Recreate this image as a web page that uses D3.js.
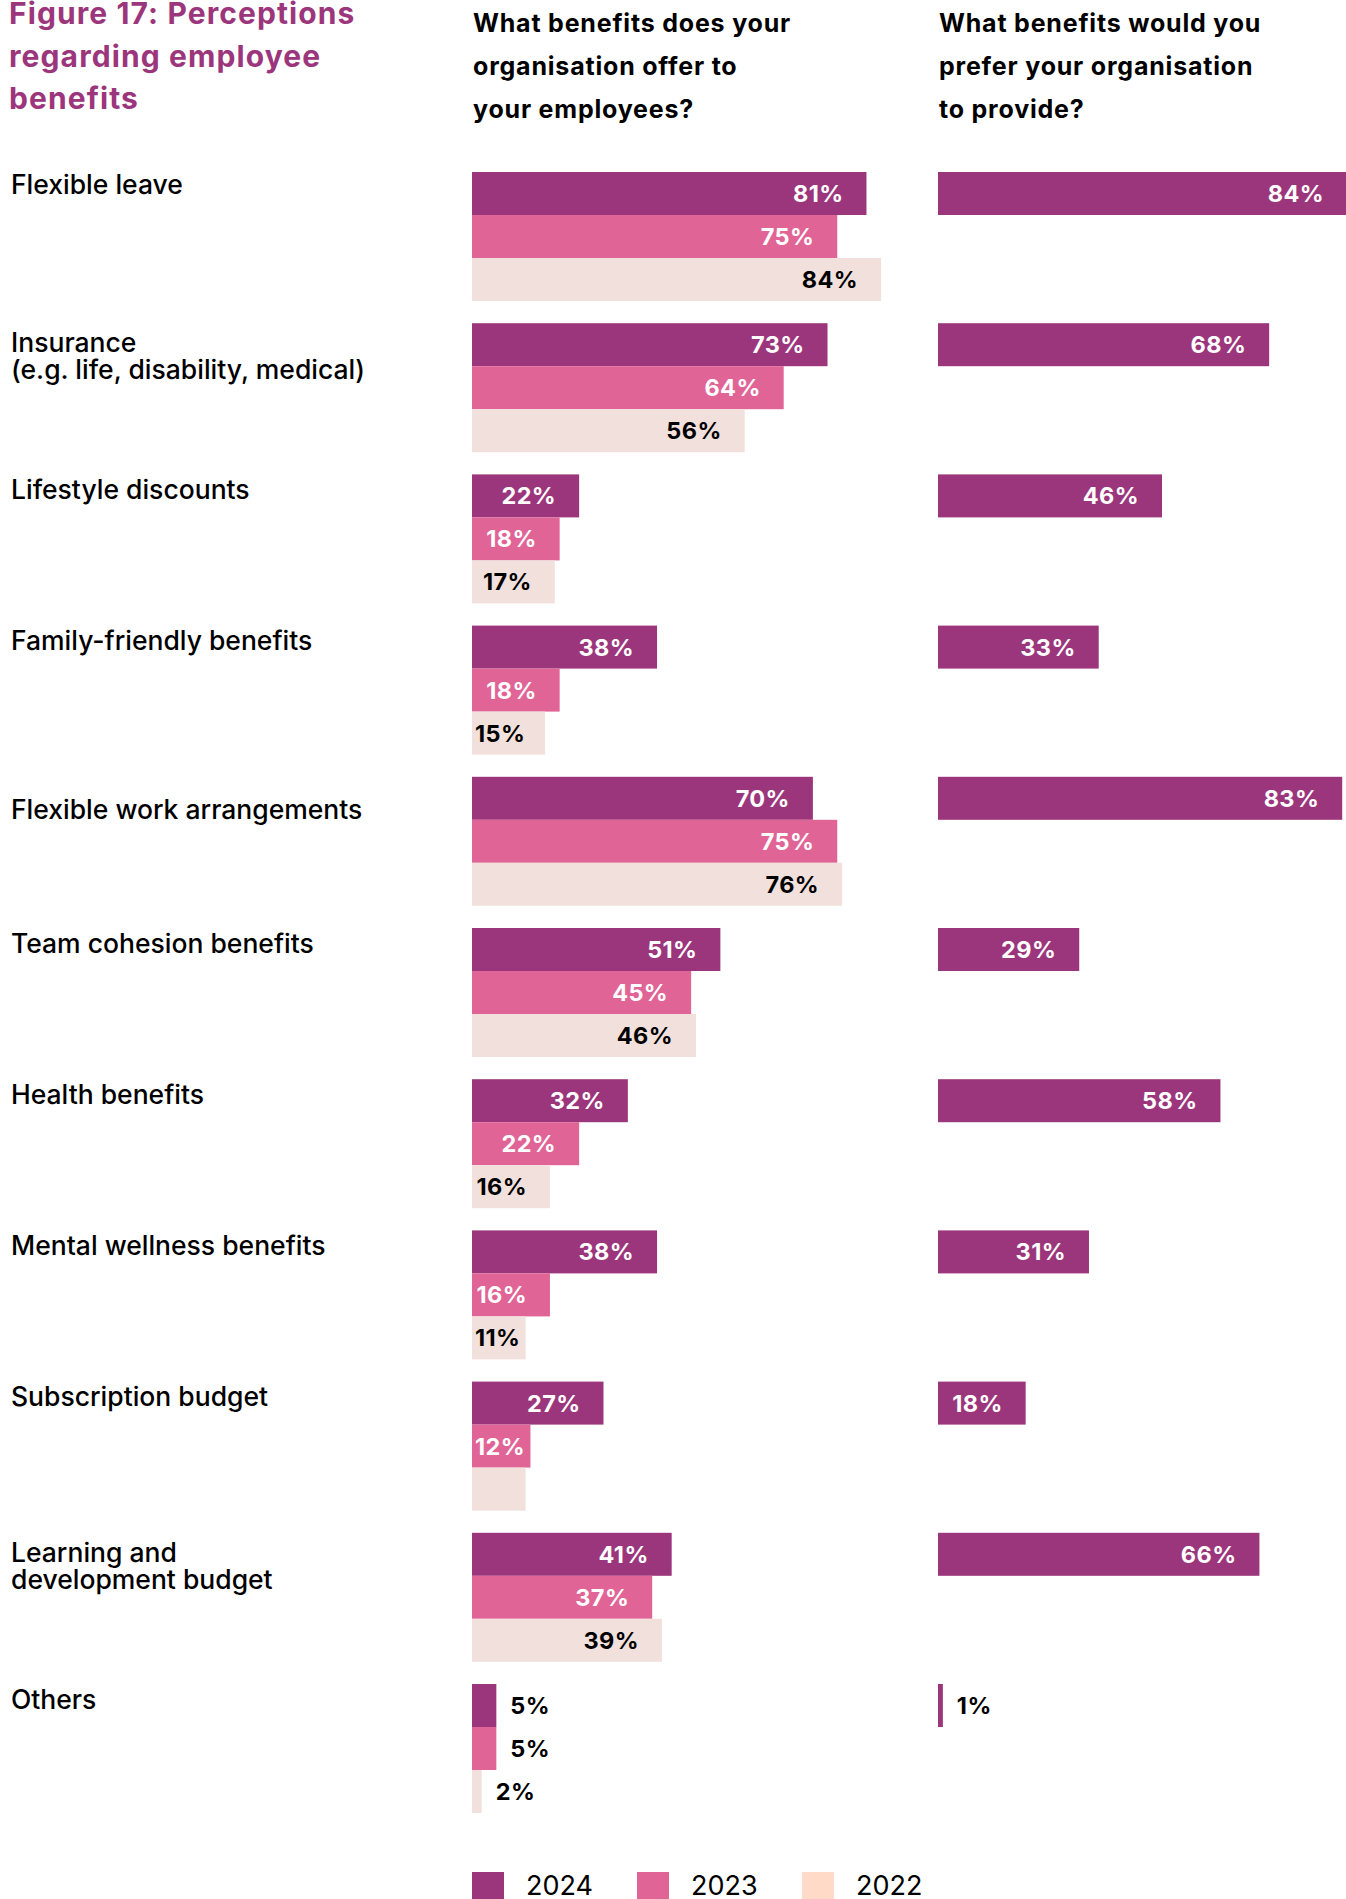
<!DOCTYPE html>
<html>
<head>
<meta charset="utf-8">
<script src="https://cdn.jsdelivr.net/npm/d3@7"></script>
<style>
  html, body { margin: 0; padding: 0; background: #ffffff; }
  svg { display: block; }
  text { font-family: Inter, "Noto Sans", sans-serif; }
</style>
</head>
<body>
<svg id="chart" width="1346" height="1899"></svg>
<script>
// Benefit categories (each entry is the list of lines drawn for the label)
const categories = [
  ["Flexible leave"],
  ["Insurance", "(e.g. life, disability, medical)"],
  ["Lifestyle discounts"],
  ["Family-friendly benefits"],
  ["Flexible work arrangements"],
  ["Team cohesion benefits"],
  ["Health benefits"],
  ["Mental wellness benefits"],
  ["Subscription budget"],
  ["Learning and", "development budget"],
  ["Others"]
];

const years = ["2024", "2023", "2022"];

// "What benefits does your organisation offer to your employees?" (%)
const offered2024 = [81, 73, 22, 38, 70, 51, 32, 38, 27, 41, 5];
const offered2023 = [75, 64, 18, 18, 75, 45, 22, 16, 12, 37, 5];
const offered2022 = [84, 56, 17, 15, 76, 46, 16, 11, 11, 39, 2];
// the 2022 subscription budget bar carries no printed value
const offered2022Labelled = [true, true, true, true, true, true, true, true, false, true, true];

// "What benefits would you prefer your organisation to provide?" (%)
const preferred2024 = [84, 68, 46, 33, 83, 29, 58, 31, 18, 66, 1];

const titleLines = ["Figure 17: Perceptions", "regarding employee", "benefits"];
const headerLeft = ["What benefits does your", "organisation offer to", "your employees?"];
const headerRight = ["What benefits would you", "prefer your organisation", "to provide?"];

// ---- styling ----
const colors = { "2024": "#9c367c", "2023": "#e16496", "2022": "#f2e0dd" };
const legendColors = { "2024": "#9c367c", "2023": "#e16496", "2022": "#ffdac6" };
const labelInk = { "2024": "#ffffff", "2023": "#ffffff", "2022": "#000000" };
const purple = "#9c367c";

const svg = d3.select("#chart");

const catKeys = categories.map(c => c.join(" "));

// rows: 11 groups of three stacked bars
const y = d3.scaleBand()
  .domain(catKeys)
  .range([172, 1813])
  .paddingInner(22.2 / 151.2)
  .paddingOuter(0);

const yInner = d3.scaleBand()
  .domain(years)
  .range([0, y.bandwidth()]);

const x = d3.scaleLinear().domain([0, 100]).range([0, 487]);

const leftX0 = 472;
const rightX0 = 938;

// title
svg.append("g").selectAll("text")
  .data(titleLines)
  .join("text")
  .attr("x", 9)
  .attr("y", (d, i) => 24 + i * 42.5)
  .attr("fill", purple)
  .attr("font-size", 30)
  .attr("font-weight", 700)
  .attr("letter-spacing", 1.1)
  .text(d => d);

// column headers
function header(lines, x0) {
  svg.append("g").selectAll("text")
    .data(lines)
    .join("text")
    .attr("x", x0)
    .attr("y", (d, i) => 32 + i * 43)
    .attr("fill", "#000")
    .attr("font-size", 25)
    .attr("font-weight", 700)
    .attr("letter-spacing", 0.8)
    .text(d => d);
}
header(headerLeft, leftX0 + 1);
header(headerRight, rightX0 + 1);

// category labels, with small vertical nudges per row
const labelBaseline = {
  "Flexible leave": 22,
  "Insurance (e.g. life, disability, medical)": 29,
  "Flexible work arrangements": 42.5,
  "Learning and development budget": 29
};
const catG = svg.append("g");
categories.forEach((lines, i) => {
  const key = catKeys[i];
  const base = y(key) + (labelBaseline[key] ?? 24.5);
  catG.append("text")
    .attr("x", 11)
    .attr("y", base)
    .attr("font-size", 26.5)
    .attr("font-weight", 500)
    .attr("fill", "#000")
    .selectAll("tspan")
    .data(lines)
    .join("tspan")
    .attr("x", 11)
    .attr("dy", (d, j) => j === 0 ? 0 : 26.7)
    .text(d => d);
});

// bar + value label drawing
function drawBars(g, rows, x0) {
  g.selectAll("rect")
    .data(rows)
    .join("rect")
    .attr("x", x0)
    .attr("y", d => y(d.cat) + yInner(d.year))
    .attr("width", d => x(d.value))
    .attr("height", yInner.bandwidth())
    .attr("fill", d => colors[d.year]);

  g.selectAll("text")
    .data(rows.filter(d => d.labelled))
    .join("text")
    .attr("font-size", 23.5)
    .attr("font-weight", 700)
    .attr("letter-spacing", 0.4)
    .attr("y", d => y(d.cat) + yInner(d.year) + yInner.bandwidth() / 2 + 8.5)
    .each(function (d) {
      const w = x(d.value);
      const t = d3.select(this).text(d.value + "%");
      if (w > 45) {
        const tw = this.getComputedTextLength();
        let right = x0 + w - 23;
        if (right - tw < x0 + 3) right = x0 + 3 + tw;
        t.attr("x", right).attr("text-anchor", "end").attr("fill", labelInk[d.year]);
      } else {
        t.attr("x", x0 + w + 14)
          .attr("text-anchor", "start").attr("fill", "#000");
      }
    });
}

const leftRows = [];
catKeys.forEach((cat, i) => {
  leftRows.push({ cat, year: "2024", value: offered2024[i], labelled: true });
  leftRows.push({ cat, year: "2023", value: offered2023[i], labelled: true });
  leftRows.push({ cat, year: "2022", value: offered2022[i], labelled: offered2022Labelled[i] });
});
const rightRows = catKeys.map((cat, i) => ({ cat, year: "2024", value: preferred2024[i], labelled: true }));

drawBars(svg.append("g"), leftRows, leftX0);
drawBars(svg.append("g"), rightRows, rightX0);

// legend
const legend = svg.append("g").attr("transform", "translate(472,1872)");
const lg = legend.selectAll("g")
  .data(years)
  .join("g")
  .attr("transform", (d, i) => `translate(${i * 165},0)`);
lg.append("rect")
  .attr("width", 32)
  .attr("height", 32)
  .attr("fill", d => legendColors[d]);
lg.append("text")
  .attr("x", 54)
  .attr("y", 23)
  .attr("font-size", 27)
  .attr("font-weight", 400)
  .attr("fill", "#000")
  .text(d => d);
</script>
</body>
</html>
